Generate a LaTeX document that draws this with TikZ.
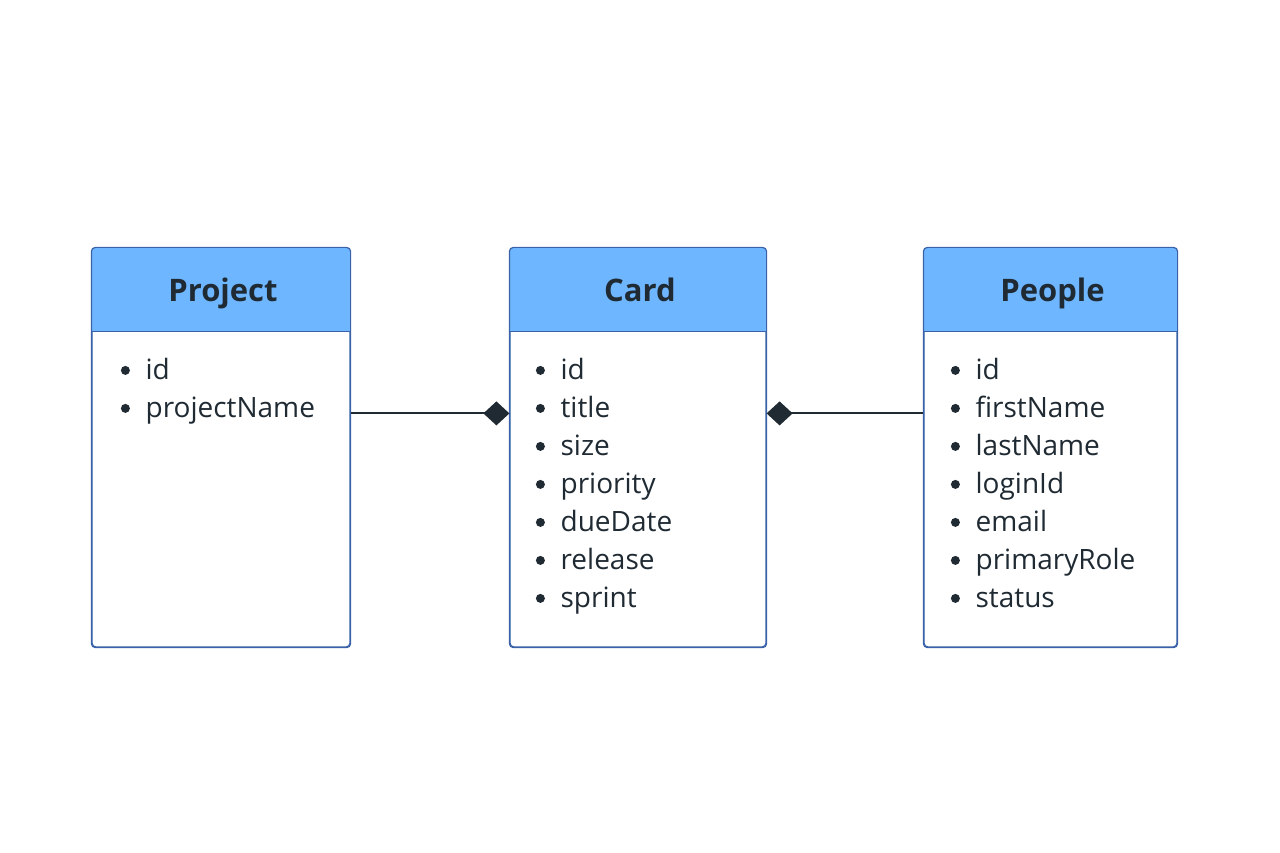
\documentclass[tikz,border=0pt]{standalone}
\usepackage{fontspec}
\setmainfont{Open Sans}
\usetikzlibrary{arrows.meta,calc}
\definecolor{hdr}{HTML}{6EB6FF}
\definecolor{edge}{HTML}{3A62A8}
\definecolor{ink}{HTML}{1F2A33}
\tikzset{
  box/.style={draw=edge, line width=1.2pt, rounded corners=4pt, fill=white, inner sep=0pt},
  title/.style={font=\fontsize{31}{34}\selectfont\bfseries, text=ink, text height=22pt, text depth=0pt, inner sep=0pt},
  item/.style={font=\fontsize{28}{30}\selectfont, text=ink, anchor=west, inner sep=0pt, text height=20pt, text depth=0pt},
  dot/.style={circle, fill=ink, minimum size=9pt, inner sep=0pt},
  conn/.style={draw=ink, line width=2pt, -{Diamond[length=26pt,width=24pt,fill=ink]}},
}
\newcommand{\entity}[7]{% name, cx, width, height, title, items(list), bulletx offset
  \node[box, minimum width=#3pt, minimum height=#4pt] (#1) at (#2,447.5) {};
  \fill[hdr, rounded corners=4pt] (#1.north west) rectangle ($(#1.north east)+(0,84)$);
  \fill[hdr] ($(#1.north west)+(0,42)$) rectangle ($(#1.north east)+(0,84)$);
  \draw[edge, line width=1.2pt, rounded corners=4pt] (#1.south west) rectangle (#1.north east);
  \draw[edge, line width=1.2pt] ($(#1.north west)+(0,84)$) -- ($(#1.north east)+(0,84)$);
  \node[title] (#1T) at ($(#1.north)+(2,43)$) {#5};
  \foreach \t [count=\i] in {#6} {
    \node[dot] (#1D\i) at ($(#1.north west)+(#7,123+38*\i-38)$) {};
    \node[item] (#1R\i) at ($(#1D\i)+(20,-1)$) {\t};
  }
}
\begin{document}
\begin{tikzpicture}[x=1pt,y=-1pt]
\useasboundingbox (0,0) rectangle (1280,853);
\fill[white] (0,0) rectangle (1280,853);
\entity{proj}{221}{258}{399}{Project}{id,projectName}{34}
\entity{card}{638}{256}{399}{Card}{id,title,size,priority,dueDate,release,sprint}{31}
\entity{peop}{1050.5}{253}{399}{People}{id,firstName,lastName,loginId,email,primaryRole,status}{32}
\coordinate (lineY) at ($(cardD2)+(0,5)$);
\draw[conn] (proj.east |- lineY) -- (card.west |- lineY);
\draw[conn] (peop.west |- lineY) -- (card.east |- lineY);
\end{tikzpicture}
\end{document}
